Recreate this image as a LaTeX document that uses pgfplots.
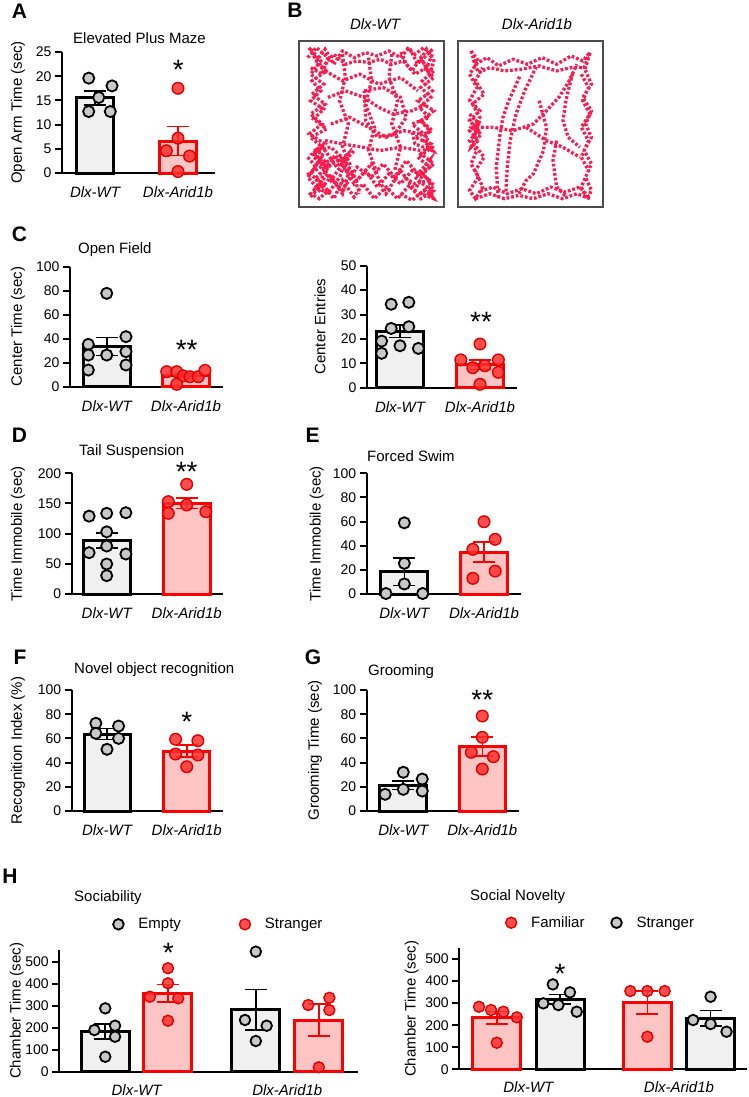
\documentclass[border=0pt]{standalone}
\usepackage{fontspec}
\setmainfont{Liberation Sans}
\usepackage{pgfplots}
\pgfplotsset{compat=1.18}

\definecolor{wtfill}{HTML}{F0F0F0}
\definecolor{ptgray}{HTML}{C8C8C8}
\definecolor{aridfill}{HTML}{FFC4C4}
\definecolor{aridline}{HTML}{FF0000}
\definecolor{ptred}{HTML}{FF3030}
\definecolor{ptredline}{HTML}{E00000}
\definecolor{track}{HTML}{FF1A4D}

\newcommand{\fs}[1]{\fontsize{#1}{#1}\selectfont}

\pgfplotsset{
  panel/.style={scale only axis, anchor=south west,
    axis x line*=bottom, axis y line*=left,
    axis line style={line width=2.2pt}, ymin=0, clip=false, enlargelimits=false,
    tick align=outside, major tick length=7pt,
    ytick style={line width=2pt, black}, xtick style={draw=none},
    xtick={0,1}, xticklabels={Dlx-WT,Dlx-Arid1b},
    xticklabel style={font=\fs{15}\itshape, yshift=-3pt},
    yticklabel style={font=\fs{14}},
    /pgf/number format/assume math mode=true,
    every axis y label/.style={rotate=90, anchor=center, font=\fs{15}}},
  wtbar/.style={ybar, forget plot, bar shift=0pt, bar width=#1, fill=wtfill, draw=black, line width=3pt},
  aridbar/.style={ybar, forget plot, bar shift=0pt, bar width=#1, fill=aridfill, draw=aridline, line width=3pt},
  wtpts/.style={only marks, mark=*, mark size=#1, mark options={fill=ptgray, draw=black, line width=1.8pt}},
  wtpts/.default=5.6pt,
  aridpts/.style={only marks, mark=*, mark size=#1, mark options={fill=ptred, fill opacity=0.85, draw=ptredline, line width=1.4pt}},
  aridpts/.default=5.8pt,
  errb/.style={forget plot, draw=none, mark=none, error bars/.cd, y dir=both, y explicit,
    error bar style={draw=#1, line width=1.6pt},
    error mark options={draw=#1, rotate=90, mark size=11pt, line width=1.6pt}},
  hlegend/.style={legend image code/.code={\draw[##1] plot coordinates {(0pt,0pt)};
      \path[draw=none, fill=none] (-6pt,0pt) -- (18pt,0pt);}},
  trackbox/.style={scale only axis, anchor=south west, width=145pt, height=166pt,
    xmin=0, xmax=100, ymin=0, ymax=100, xtick=\empty, ytick=\empty,
    axis line style={draw=black!70, line width=1.3pt}},
  trk/.style={draw=track, line width=3.3pt, dash pattern=on 2.7pt off 2pt},
}

\begin{document}
\begin{tikzpicture}
\fill[white] (0,0) rectangle (749pt,-1097pt);
\useasboundingbox (0,0) rectangle (749pt,-1097pt);

% panel letters
\foreach \l/\x/\y in {A/19.5/11, B/295/10, C/19.5/234.5, D/19.5/435.5, E/312.5/435.5, F/20/657.5, G/313/657.5, H/10/876.5}
  \node[font=\fs{21}\bfseries, inner sep=0pt, anchor=center] at (\x pt,-\y pt) {\l};

% titles
\foreach \t/\x/\y in {Elevated Plus Maze/73/43.3, Open Field/78/253, Tail Suspension/79/455.5, Forced Swim/367/461, Novel object recognition/74/673.5, Grooming/368/675, Sociability/74/901.7, Social Novelty/470/900.7}
  \node[font=\fs{15}, inner sep=0pt, anchor=base west] at (\x pt,-\y pt) {\t};

% significance
\foreach \s/\x/\y in {*/178.3/80, **/186.7/359.3, **/481/331, **/186.7/481.7, */186.7/731, **/482.3/709.3, */168.3/962.7, */560/983.3}
  \node[font=\fs{28}, inner sep=0pt, anchor=base] at (\x pt,-\y pt) {\s};

% ---------- A
\begin{axis}[panel, at={(62pt,-173pt)}, width=153pt, height=121pt,
  xmin=-0.398, xmax=1.446, ymax=25, ytick={0,5,...,25},
  ylabel={Open Arm Time (sec)}, ylabel style={at={(axis description cs:-0.288,0.5)}}]
\addplot[wtbar=0.446] coordinates {(0,15.5)};
\addplot[aridbar=0.446] coordinates {(1,6.6)};
\addplot[wtpts] coordinates {(-0.076,19.6) (0.205,18.0) (0.045,15.6) (-0.076,12.7) (0.184,12.7)};
\addplot[aridpts] coordinates {(1,17.5) (1,7.2) (0.86,4.6) (1.14,3.5) (1,0.3)};
\addplot[errb=black] coordinates {(0,15.5) +- (0,1.5)};
\addplot[errb=aridline] coordinates {(1,6.6) +- (0,3.0)};
\end{axis}

% ---------- B
\node[font=\fs{15}\itshape, inner sep=0pt, anchor=base] at (375pt,-30pt) {Dlx-WT};
\node[font=\fs{15}\itshape, inner sep=0pt, anchor=base] at (537pt,-30pt) {Dlx-Arid1b};
\begin{axis}[trackbox, at={(299pt,-207pt)}]
\addplot[trk] coordinates {(7,96)(12,88)(18,95)(24,86)(30,94)(38,90)(46,93)(54,91)(62,94)(70,90)(76,96)(82,86)(88,95)(93,88)(90,80)(84,90)(78,82)(72,88)(64,86)(56,89)(48,87)(40,88)(32,86)(24,92)(16,84)(10,92)};
\addplot[trk] coordinates {(8,95)(15,88)(8,80)(17,74)(9,68)(18,62)(8,56)(16,50)(7,44)(18,38)(9,32)(19,26)(7,20)(17,14)(8,8)(14,5)(20,10)(11,17)(19,24)(10,30)(16,36)(8,42)(19,47)(10,53)(17,59)(8,64)(15,70)(9,76)(19,82)(12,86)};
\addplot[trk] coordinates {(92,95)(84,88)(93,82)(85,76)(92,70)(82,64)(93,58)(84,52)(92,46)(80,42)(91,38)(84,32)(93,26)(85,20)(92,14)(84,8)(93,5)(88,12)(80,18)(90,24)(82,30)(92,36)(86,44)(78,50)(90,54)(83,60)(91,66)(84,72)(93,78)(86,84)};
\addplot[trk] coordinates {(8,6)(16,14)(24,5)(30,16)(38,6)(44,14)(52,5)(60,12)(68,5)(76,13)(84,5)(93,10)(88,18)(78,22)(70,14)(62,20)(54,12)(46,22)(38,14)(30,26)(22,16)(14,28)(8,20)(18,34)(26,24)(34,32)(28,18)(20,8)(12,12)(24,30)(36,22)(42,8)};
\addplot[trk] coordinates {(10,10)(20,20)(30,10)(40,24)(50,18)(58,26)(66,18)(74,28)(82,20)(90,28)(80,10)(70,22)(60,8)(50,26)(40,16)(30,30)(20,24)(12,36)};
\addplot[trk] coordinates {(6,30)(12,24)(6,18)(14,10)(22,18)(30,8)(34,20)(26,30)(16,26)(10,34)(22,36)(32,28)(38,34)};
\addplot[trk] coordinates {(74,96)(80,92)(86,96)(92,92)(88,84)(80,80)(74,86)(70,94)};
\addplot[trk] coordinates {(84,52)(90,46)(86,40)(92,34)(80,38)(78,46)};
\addplot[trk] coordinates {(6,90)(12,96)(20,90)(16,80)(8,84)};
\addplot[trk] coordinates {(70,8)(78,4)(86,10)(92,6)(90,16)(80,14)(72,18)};
\addplot[trk] coordinates {(18,82)(30,76)(42,80)(55,74)(70,78)(82,70)};
\addplot[trk] coordinates {(20,66)(32,70)(45,66)(55,60)(65,56)(78,58)(88,62)};
\addplot[trk] coordinates {(22,50)(35,54)(48,48)(60,42)(72,46)(85,44)};
\addplot[trk] coordinates {(18,40)(30,38)(44,36)(56,34)(70,36)(84,34)};
\addplot[trk] coordinates {(30,92)(32,78)(28,64)(34,50)(30,36)(36,24)};
\addplot[trk] coordinates {(48,90)(50,76)(46,62)(52,48)(48,34)(54,20)};
\addplot[trk] coordinates {(64,92)(62,78)(68,64)(64,50)(70,36)(66,22)};
\addplot[trk] coordinates {(45,70)(58,72)(70,66)(74,54)(66,44)(54,42)(46,52)(45,70)};
\end{axis}
\begin{axis}[trackbox, at={(458pt,-207pt)}]
\addplot[trk] coordinates {(9,94)(12,86)(20,90)(28,85)(38,89)(48,86)(58,90)(68,86)(78,91)(86,88)(91,93)(88,84)(78,84)(68,82)(56,85)(44,83)(32,82)(22,84)(14,81)(10,90)};
\addplot[trk] coordinates {(9,94)(14,88)(8,80)(13,72)(8,64)(15,58)(8,52)(14,46)(8,40)(13,34)(9,26)(14,18)(8,10)(12,5)(17,12)(12,22)(18,30)(11,38)(16,44)(9,48)(15,54)(10,62)(18,68)(12,76)(17,84)};
\addplot[trk] coordinates {(8,56)(14,50)(8,46)(14,40)(9,36)(15,52)(10,42)};
\addplot[trk] coordinates {(91,93)(87,84)(92,74)(86,66)(92,58)(88,50)(92,42)(87,34)(92,26)(88,18)(92,10)(89,5)(85,12)(90,22)(85,30)(90,40)(85,48)(91,56)(86,64)(90,72)(85,80)};
\addplot[trk] coordinates {(12,5)(22,8)(32,5)(42,7)(52,5)(62,8)(72,5)(82,8)(91,5)(84,12)(74,9)(64,12)(54,8)(44,11)(34,8)(24,12)(14,9)};
\addplot[trk] coordinates {(42.5,78.5)(35,64)(31,54)(29,44)(26.4,24)(27.6,6)};
\addplot[trk] coordinates {(54,84.5)(46,70)(40,56)(36,40)(34,24)(33,8)};
\addplot[trk] coordinates {(16,48)(24,48)(38,46)(52,50)(61,58)(70,66.5)(77,76.5)(82,86)};
\addplot[trk] coordinates {(47,48)(61,40)(72.4,36)(84,30)};
\addplot[trk] coordinates {(56,64)(61,48)(59,34)(52,20)(47,16)(42,8)};
\addplot[trk] coordinates {(68,40)(65.5,28)(68,12)(74.7,6)};
\addplot[trk] coordinates {(79,80.5)(74.5,64.5)(72.4,52)(76,42)(84,36)};
\end{axis}

% ---------- C left
\begin{axis}[panel, at={(70pt,-386.7pt)}, width=153pt, height=120pt,
  xmin=-0.463, xmax=1.467, ymax=100, ytick={0,20,...,100},
  ylabel={Center Time (sec)}, ylabel style={at={(axis description cs:-0.340,0.5)}}]
\addplot[wtbar=0.593] coordinates {(0,33.6)};
\addplot[aridbar=0.593] coordinates {(1,9.5)};
\addplot[wtpts] coordinates {(0,77.8) (0.243,41.7) (-0.232,35.3) (-0.232,26.4) (0,26.4) (0.243,29.2) (-0.232,13.9) (0.243,18.1)};
\addplot[aridpts] coordinates {(0.757,12.5) (0.883,12.5) (0.966,9) (1.05,8.3) (1.155,8.3) (1.24,13.6) (0.883,2)};
\addplot[errb=black] coordinates {(0,33.6) +- (0,7.5)};
\addplot[errb=aridline] coordinates {(1,9.5) +- (0,1.5)};
\end{axis}

% ---------- C right
\begin{axis}[panel, at={(367pt,-387.7pt)}, width=149.7pt, height=122pt,
  xmin=-0.4125, xmax=1.459, ymax=50, ytick={0,10,...,50},
  ylabel={Center Entries}, ylabel style={at={(axis description cs:-0.314,0.5)}}]
\addplot[wtbar=0.5875] coordinates {(0,23.1)};
\addplot[aridbar=0.5875] coordinates {(1,9.4)};
\addplot[wtpts] coordinates {(-0.11,34.2) (0.11,35) (-0.11,24.3) (0.11,25) (-0.23,19.1) (0,17.2) (0.23,16.1) (-0.23,14.1)};
\addplot[aridpts] coordinates {(1,17.9) (0.76,11.4) (1.23,11.4) (0.91,8.2) (1.06,9) (1.23,6.3) (1,1.4)};
\addplot[errb=black] coordinates {(0,23.1) +- (0,2.6)};
\addplot[errb=aridline] coordinates {(1,9.4) +- (0,1.9)};
\end{axis}

% ---------- D
\begin{axis}[panel, at={(71.7pt,-594pt)}, width=151.3pt, height=120.7pt,
  xmin=-0.4375, xmax=1.454, ymax=200, ytick={0,50,...,200},
  ylabel={Time Immobile (sec)}, ylabel style={at={(axis description cs:-0.355,0.5)}}]
\addplot[wtbar=0.5875] coordinates {(0,88.3)};
\addplot[aridbar=0.5875] coordinates {(1,150.5)};
\addplot[wtpts] coordinates {(-0.22,129) (0,133.7) (0.24,134.7) (0,103) (-0.22,68.5) (0,79.5) (0.24,66.3) (0,49.7) (0,30.4)};
\addplot[aridpts] coordinates {(1,181.7) (0.77,153) (1,147.5) (0.77,133.7) (1.24,136.4)};
\addplot[errb=black] coordinates {(0,88.3) +- (0,12.5)};
\addplot[errb=aridline] coordinates {(1,150.5) +- (0,8.5)};
\end{axis}

% ---------- E
\begin{axis}[panel, at={(366.7pt,-594pt)}, width=154pt, height=120.7pt,
  xmin=-0.472, xmax=1.46, ymax=100, ytick={0,20,...,100},
  ylabel={Time Immobile (sec)}, ylabel style={at={(axis description cs:-0.325,0.5)}}]
\addplot[wtbar=0.586] coordinates {(0,18.5)};
\addplot[aridbar=0.586] coordinates {(1,34.8)};
\addplot[wtpts] coordinates {(0,59) (0,25.4) (0,8.3) (-0.23,0.4) (0.23,0.4)};
\addplot[aridpts] coordinates {(1,59.9) (1.14,45.3) (0.86,37) (1.14,19) (0.86,13)};
\addplot[errb=black] coordinates {(0,18.5) +- (0,11.3)};
\addplot[errb=aridline] coordinates {(1,34.8) +- (0,8.2)};
\end{axis}

% ---------- F
\begin{axis}[panel, at={(71.7pt,-811pt)}, width=151.3pt, height=121pt,
  xmin=-0.443, xmax=1.455, ymax=100, ytick={0,20,...,100},
  ylabel={Recognition Index (\%)}, ylabel style={at={(axis description cs:-0.355,0.5)}}]
\addplot[wtbar=0.577] coordinates {(0,63.6)};
\addplot[aridbar=0.577] coordinates {(1,49.5)};
\addplot[wtpts] coordinates {(-0.14,72.5) (0.145,70.2) (-0.14,64.2) (0.145,60) (0,51)};
\addplot[aridpts] coordinates {(0.86,59.3) (1.14,58.1) (0.86,47.1) (1.14,46.3) (1,36.6)};
\addplot[errb=black] coordinates {(0,63.6) +- (0,4.6)};
\addplot[errb=aridline] coordinates {(1,49.5) +- (0,4.9)};
\end{axis}

% ---------- G
\begin{axis}[panel, at={(366.7pt,-811pt)}, width=152.6pt, height=121pt,
  xmin=-0.463, xmax=1.468, ymax=100, ytick={0,20,...,100},
  ylabel={Grooming Time (sec)}, ylabel style={at={(axis description cs:-0.339,0.5)}}]
\addplot[wtbar=0.59] coordinates {(0,21.3)};
\addplot[aridbar=0.59] coordinates {(1,53.5)};
\addplot[wtpts] coordinates {(0,32) (0.24,26.4) (0,17.9) (0.24,16.5) (-0.23,13.8)};
\addplot[aridpts] coordinates {(1,78.5) (1,60.9) (0.86,48.5) (1.14,44.9) (1,34.7)};
\addplot[errb=black] coordinates {(0,21.3) +- (0,3.5)};
\addplot[errb=aridline] coordinates {(1,53.5) +- (0,7.8)};
\end{axis}

% ---------- H left: Sociability
\begin{axis}[panel, hlegend, at={(59.3pt,-1071.7pt)}, width=299pt, height=121.7pt,
  xmin=-0.513, xmax=1.471, ymax=553, ytick={0,100,...,500},
  xticklabel style={yshift=1pt},
  ylabel={Chamber Time (sec)}, ylabel style={at={(axis description cs:-0.1425,0.5)}},
  legend style={draw=none, fill=none, font=\fs{15}, legend columns=2, inner sep=0pt,
    at={(axis description cs:0.177,1.211)}, anchor=west,
    /tikz/every even column/.append style={column sep=56pt}}]
\addplot[wtbar=0.319] coordinates {(-0.208,182.7)};
\addplot[aridbar=0.319] coordinates {(0.208,355.7)};
\addplot[wtbar=0.319] coordinates {(0.791,282.3)};
\addplot[aridbar=0.319] coordinates {(1.209,234.8)};
\addplot[wtpts=5.3pt] coordinates {(-0.208,288) (-0.28,189.4) (-0.143,209) (-0.143,159) (-0.208,68)
  (0.791,545.5) (0.719,235) (0.863,209) (0.791,139.5)};
\addplot[aridpts=5.5pt] coordinates {(0.208,470) (0.208,402) (0.088,341) (0.276,333.6) (0.208,231.8)
  (1.279,336) (1.139,303) (1.279,280) (1.209,20)};
\legend{Empty, Stranger}
\addplot[errb=black] coordinates {(-0.208,182.7) +- (0,35) (0.791,282.3) +- (0,92)};
\addplot[errb=aridline] coordinates {(0.208,355.7) +- (0,40) (1.209,234.8) +- (0,72)};
\end{axis}

% ---------- H right: Social Novelty
\begin{axis}[panel, hlegend, at={(459.3pt,-1069.3pt)}, width=287.4pt, height=121pt,
  xmin=-0.459, xmax=1.45, ymax=548.5, ytick={0,100,...,500},
  xticklabel style={yshift=1pt},
  ylabel={Chamber Time (sec)}, ylabel style={at={(axis description cs:-0.1656,0.5)}},
  legend style={draw=none, fill=none, font=\fs{15}, legend columns=2, inner sep=0pt,
    at={(axis description cs:0.159,1.2116)}, anchor=west,
    /tikz/every even column/.append style={column sep=24pt}}]
\addplot[aridbar=0.319] coordinates {(-0.21,233.9)};
\addplot[wtbar=0.319] coordinates {(0.21,317)};
\addplot[aridbar=0.319] coordinates {(0.79,303)};
\addplot[wtbar=0.319] coordinates {(1.21,232)};
\addplot[aridpts=5.5pt] coordinates {(-0.328,283.6) (-0.248,268.7) (-0.166,261) (-0.077,235.6) (-0.21,120.5)
  (0.677,354.8) (0.79,354.8) (0.905,354.8) (0.79,147.7)};
\addplot[wtpts=5.3pt] coordinates {(0.162,385) (0.276,349) (0.099,299) (0.199,291.3) (0.321,261)
  (1.21,329) (1.094,223.4) (1.21,205.3) (1.316,170.4)};
\legend{Familiar, Stranger}
\addplot[errb=aridline] coordinates {(-0.21,233.9) +- (0,29) (0.79,303) +- (0,52)};
\addplot[errb=black] coordinates {(0.21,317) +- (0,22) (1.21,232) +- (0,35)};
\end{axis}
\end{tikzpicture}
\end{document}
